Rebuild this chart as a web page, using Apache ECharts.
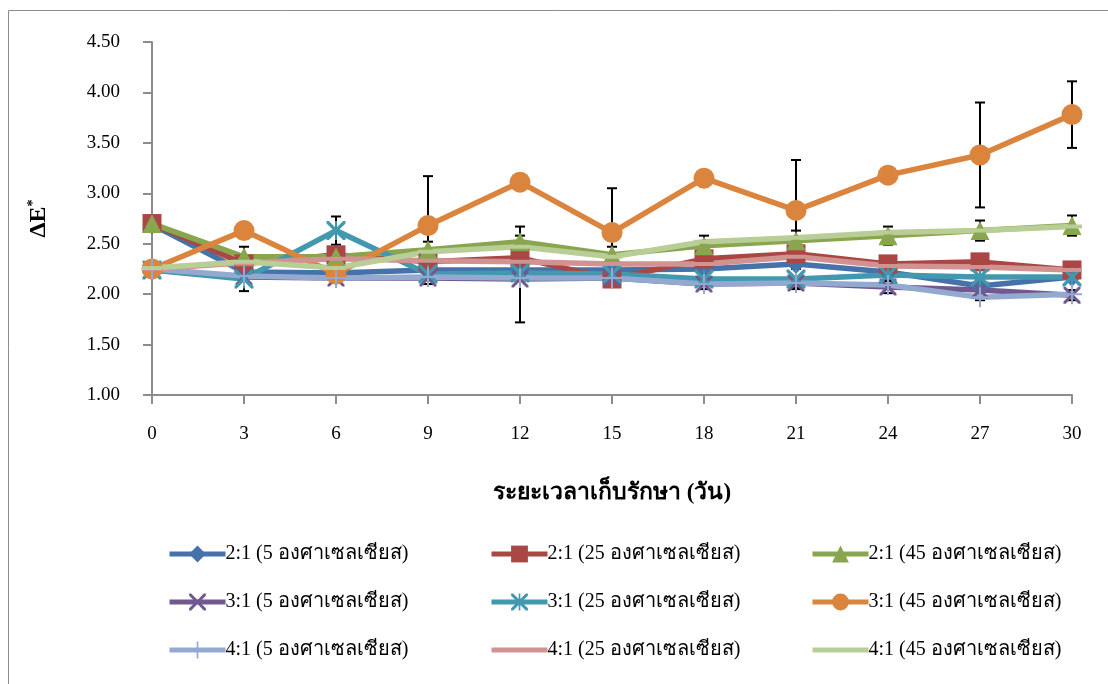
<!DOCTYPE html>
<html>
<head>
<meta charset="utf-8">
<script src="https://cdn.jsdelivr.net/npm/echarts@6/dist/echarts.min.js"></script>
<style>
  html, body { margin: 0; padding: 0; background: #fff; }
  #chart { width: 1108px; height: 684px; }
</style>
</head>
<body>
<div id="chart"></div>
<script>
// Storage days (x categories)
const days = ['0', '3', '6', '9', '12', '15', '18', '21', '24', '27', '30'];

// ΔE* per ratio / temperature
const r21_5  = [2.69, 2.22, 2.21, 2.24, 2.24, 2.24, 2.25, 2.30, 2.22, 2.08, 2.17];
const r21_25 = [2.70, 2.30, 2.39, 2.32, 2.36, 2.15, 2.35, 2.40, 2.30, 2.32, 2.24];
const r21_45 = [2.70, 2.37, 2.37, 2.44, 2.52, 2.39, 2.48, 2.53, 2.58, 2.63, 2.68];
const r31_5  = [2.24, 2.17, 2.16, 2.16, 2.15, 2.16, 2.10, 2.11, 2.07, 2.04, 1.99];
const r31_25 = [2.24, 2.15, 2.63, 2.20, 2.21, 2.20, 2.15, 2.15, 2.19, 2.17, 2.17];
const r31_45 = [2.25, 2.63, 2.20, 2.68, 3.11, 2.61, 3.15, 2.83, 3.18, 3.38, 3.78];
const r41_5  = [2.25, 2.18, 2.16, 2.17, 2.16, 2.16, 2.10, 2.11, 2.09, 1.97, 2.00];
const r41_25 = [2.25, 2.31, 2.35, 2.33, 2.32, 2.30, 2.30, 2.37, 2.28, 2.27, 2.24];
const r41_45 = [2.26, 2.32, 2.26, 2.42, 2.47, 2.37, 2.52, 2.56, 2.61, 2.63, 2.67];

// Standard deviations (error bars)
const e21_45 = [0.03, 0.10, 0.05, 0.08, 0.15, 0.08, 0.10, 0.10, 0.09, 0.10, 0.10];
const e31_5  = [0.03, 0.03, 0.05, 0.06, 0.43, 0.04, 0.05, 0.05, 0.06, 0.10, 0.05];
const e31_25 = [0.03, 0.12, 0.14, 0.05, 0.05, 0.05, 0.05, 0.10, 0.05, 0.07, 0.05];
const e31_45 = [0.03, 0.04, 0.04, 0.49, 0.04, 0.44, 0.08, 0.50, 0.04, 0.52, 0.33];

const yTicks = { min: 1, max: 4.5, interval: 0.5 };

const names = [
  '2:1 (5 องศาเซลเซียส)', '2:1 (25 องศาเซลเซียส)', '2:1 (45 องศาเซลเซียส)',
  '3:1 (5 องศาเซลเซียส)', '3:1 (25 องศาเซลเซียส)', '3:1 (45 องศาเซลเซียส)',
  '4:1 (5 องศาเซลเซียส)', '4:1 (25 องศาเซลเซียส)', '4:1 (45 องศาเซลเซียส)'
];

const SERIF = '"Liberation Serif", "Times New Roman", "DejaVu Serif", serif';

// marker shapes drawn as filled outlines (20x20 box)
const X_PATH = 'path://M0,0 L2.5,0 L10,7.5 L17.5,0 L20,0 L20,2.5 L12.5,10 L20,17.5 L20,20 L17.5,20 L10,12.5 L2.5,20 L0,20 L0,17.5 L7.5,10 L0,2.5 Z';
const STAR_PATH = 'path://M0,0 L2.5,0 L9,6.5 L9,0 L11,0 L11,6.5 L17.5,0 L20,0 L20,2.5 L12.5,10 L20,17.5 L20,20 L17.5,20 L11,13.5 L11,20 L9,20 L9,13.5 L2.5,20 L0,20 L0,17.5 L7.5,10 L0,2.5 Z';
const PLUS_PATH = 'path://M9,0 L11,0 L11,9 L20,9 L20,11 L11,11 L11,20 L9,20 L9,11 L0,11 L0,9 L9,9 Z';
const DASH_PATH = 'path://M0,8 L20,8 L20,12 L0,12 Z M0,0 L0.01,0 L0.01,0.01 Z M20,20 L19.99,20 L19.99,19.99 Z';

function lineSeries(name, data, color, symbol, size) {
  return {
    name: name,
    type: 'line',
    data: data,
    symbol: symbol,
    symbolSize: size,
    symbolKeepAspect: true,
    showAllSymbol: true,
    z: 3,
    lineStyle: { color: color, width: 5.5 },
    itemStyle: { color: color, borderWidth: 0 },
    emphasis: { disabled: true },
    animation: false
  };
}

function errSeries(base, err) {
  return {
    type: 'custom',
    name: 'err',
    z: 1,
    silent: true,
    animation: false,
    data: base.map((v, i) => [i, v - err[i], v + err[i]]),
    encode: { x: 0, y: [1, 2] },
    renderItem: function (params, api) {
      const i = api.value(0);
      const lo = api.coord([i, api.value(1)]);
      const hi = api.coord([i, api.value(2)]);
      const w = 5;
      const st = { stroke: '#000', lineWidth: 2 };
      return {
        type: 'group',
        children: [
          { type: 'line', shape: { x1: lo[0], y1: lo[1], x2: hi[0], y2: hi[1] }, style: st },
          { type: 'line', shape: { x1: lo[0] - w, y1: lo[1], x2: lo[0] + w, y2: lo[1] }, style: st },
          { type: 'line', shape: { x1: hi[0] - w, y1: hi[1], x2: hi[0] + w, y2: hi[1] }, style: st }
        ]
      };
    }
  };
}

function legendCol(left, items) {
  return {
    orient: 'vertical',
    left: left,
    top: 539,
    itemWidth: 56,
    itemHeight: 21,
    itemGap: 28,
    data: items,
    lineStyle: { width: 5 },
    textStyle: { fontFamily: SERIF, fontSize: 20, color: '#000', padding: [0, 0, 0, -5] },
    selectedMode: false
  };
}

const chart = echarts.init(document.getElementById('chart'), null, { renderer: 'canvas' });

chart.setOption({
  backgroundColor: '#fff',
  animation: false,
  graphic: [{
    type: 'rect',
    shape: { x: 8.5, y: 10.5, width: 1300, height: 900 },
    style: { fill: 'none', stroke: '#8c8c8c', lineWidth: 1 },
    silent: true,
    z: -10
  }, {
    type: 'text',
    x: 612,
    y: 493,
    style: {
      text: 'ระยะเวลาเก็บรักษา (วัน)',
      font: 'bold 23px ' + SERIF,
      fill: '#000',
      align: 'center',
      verticalAlign: 'middle'
    }
  }],
  legend: [
    legendCol(162, [names[0], names[3], names[6]]),
    legendCol(484, [names[1], names[4], names[7]]),
    legendCol(805, [names[2], names[5], names[8]])
  ],
  grid: { left: 152, right: 36, top: 42, bottom: 289, containLabel: false },
  xAxis: {
    type: 'category',
    data: days,
    boundaryGap: false,
    axisLine: { lineStyle: { color: '#8c8c8c', width: 2 } },
    axisTick: { show: true, inside: false, length: 9, alignWithLabel: true, lineStyle: { color: '#8c8c8c', width: 2 } },
    axisLabel: { color: '#000', fontFamily: SERIF, fontSize: 19, margin: 30 },
    splitLine: { show: false }
  },
  yAxis: {
    type: 'value',
    min: yTicks.min,
    max: yTicks.max,
    interval: yTicks.interval,
    axisLine: { show: true, lineStyle: { color: '#8c8c8c', width: 2 } },
    axisTick: { show: true, inside: false, length: 9, lineStyle: { color: '#8c8c8c', width: 2 } },
    axisLabel: {
      color: '#000', fontFamily: SERIF, fontSize: 19, margin: 32,
      formatter: v => v.toFixed(2)
    },
    splitLine: { show: false },
    name: '{a|ΔE}{b|*}',
    nameLocation: 'middle',
    nameRotate: 90,
    nameGap: 100,
    nameTextStyle: {
      rich: {
        a: { fontFamily: SERIF, fontWeight: 'bold', fontSize: 24, color: '#000' },
        b: { fontFamily: SERIF, fontWeight: 'bold', fontSize: 14, color: '#000', verticalAlign: 'top', padding: [0, 0, 12, 0] }
      }
    }
  },
  series: [
    errSeries(r21_45, e21_45),
    errSeries(r31_5, e31_5),
    errSeries(r31_25, e31_25),
    errSeries(r31_45, e31_45),
    lineSeries(names[0], r21_5,  '#4672aa', 'diamond', [18, 20]),
    lineSeries(names[1], r21_25, '#aa4644', 'rect', 19),
    lineSeries(names[2], r21_45, '#89a54e', 'triangle', 19),
    lineSeries(names[3], r31_5,  '#71588f', X_PATH, 17),
    lineSeries(names[4], r31_25, '#4198af', STAR_PATH, 19),
    lineSeries(names[5], r31_45, '#db843d', 'circle', 21),
    lineSeries(names[6], r41_5,  '#93a9cf', PLUS_PATH, 20),
    lineSeries(names[7], r41_25, '#d19392', DASH_PATH, 20),
    lineSeries(names[8], r41_45, '#b9cd96', DASH_PATH, 20)
  ]
});
</script>
</body>
</html>
